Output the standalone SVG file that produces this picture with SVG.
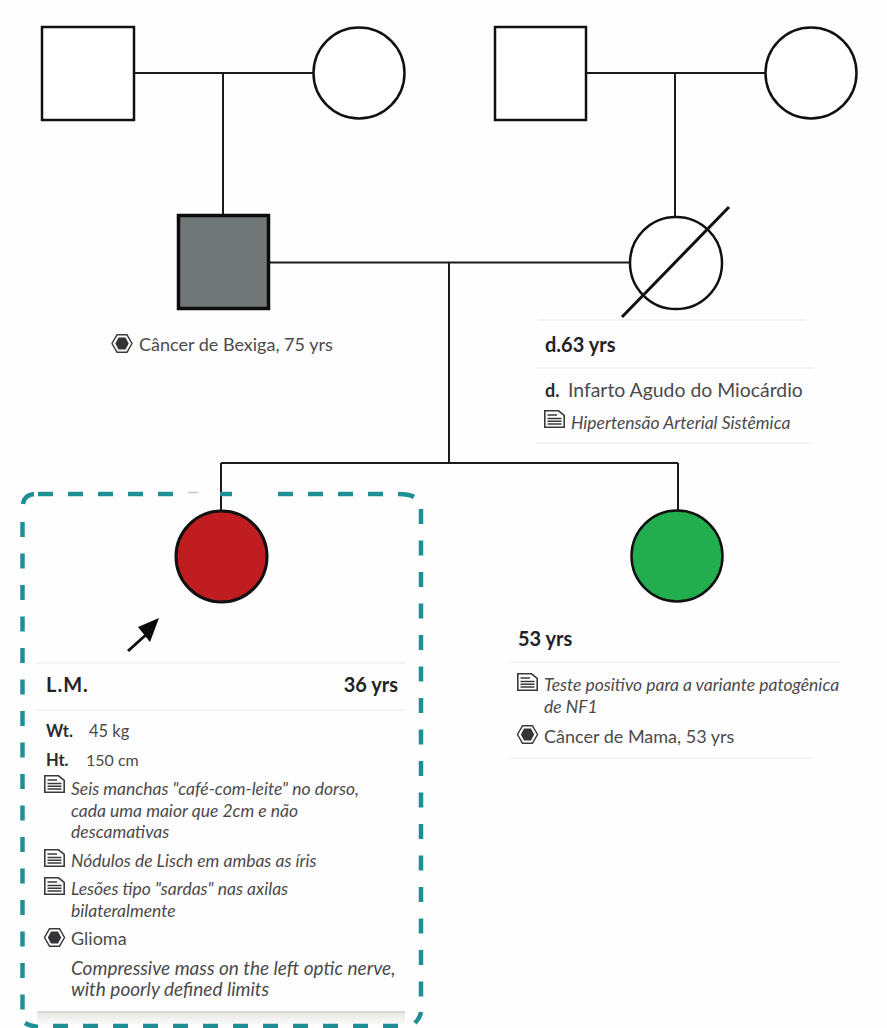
<svg xmlns="http://www.w3.org/2000/svg" width="887" height="1028" viewBox="0 0 887 1028">
<style>
text{font-family:Lato,"Noto Sans","Liberation Sans",sans-serif;fill:#4c4a4c}
.n{fill:#fff;stroke:#111;stroke-width:2.5}
.c{fill:none;stroke:#1a1a1a;stroke-width:2}
.b{font-size:20px;font-weight:700;fill:#232326}
.s{font-size:16.5px;font-weight:700;fill:#2c2c30}
.r{font-size:18px}
.i{font-size:17.5px;font-style:italic}
.rule{stroke:#f1f1f1;stroke-width:1.5;fill:none}
.d{fill:none;stroke:#1f8f96;stroke-width:4.5}
</style>
<defs>
<g id="doc"><path d="M0.8 0.8H14.5L20.2 5.5V17.2H0.8Z" fill="#fff" stroke="#3a3a3c" stroke-width="1.6"/><path d="M3.5 5H13M3.5 8.5H17.5M3.5 11.3H17.5M3.5 14H17.5" stroke="#3a3a3c" stroke-width="1.6" fill="none"/></g>
<g id="hex"><path d="M5.5 0.8H15.5L20.5 9.5L15.5 18.2H5.5L0.5 9.5Z" fill="#fff" stroke="#3a3a3c" stroke-width="1.4"/><path d="M7 3.5H14L17.2 9.5L14 15.5H7L3.8 9.5Z" fill="#333338"/></g>
<linearGradient id="sh" x1="0" y1="0" x2="0" y2="1"><stop offset="0" stop-color="#e6e6e3"/><stop offset="1" stop-color="#fafafa"/></linearGradient>
</defs>
<rect width="887" height="1028" fill="#fefefe"/>
<g id="connectors">
<path class="c" d="M134 73H314M223 73V215M586 73H766M675 73V216M269 262.500H630M449 263V463M221 463H678M221 463V510M678 463V510"/>
</g>
<g id="highlight-box">
<rect x="37" y="1012" width="368" height="12" fill="url(#sh)"/>
<path d="M188 492.500H198" stroke="#c4c4c4" stroke-width="1.500" fill="none"/>
<path class="d" d="M23 504Q24 495 34 494"/>
<path class="d" d="M38 494H174" stroke-dasharray="15 15"/>
<path class="d" d="M220 494H232"/>
<path class="d" d="M278 494H384" stroke-dasharray="15 15"/>
<path class="d" d="M398 494Q409 494 414 497"/>
<path class="d" d="M421 509V998" stroke-dasharray="15 16.500"/>
<path class="d" d="M415 1023Q420 1018 421 1012"/>
<path class="d" d="M53 1026H401" stroke-dasharray="15 15"/>
<path class="d" d="M25 1023Q30 1026 38 1027"/>
<path class="d" d="M22.500 522V1010" stroke-dasharray="15 16.500"/>
</g>
<g id="grandfather-paternal"><rect class="n" x="42" y="27" width="92" height="93"/></g>
<g id="grandmother-paternal"><circle class="n" cx="359" cy="73" r="45.500"/></g>
<g id="grandfather-maternal"><rect class="n" x="495" y="27" width="91" height="93"/></g>
<g id="grandmother-maternal"><circle class="n" cx="811" cy="73" r="45.500"/></g>
<g id="father"><rect x="178.500" y="215.500" width="90" height="93" fill="#717676" stroke="#0c0c0c" stroke-width="3.500"/>
<use href="#hex" x="111.500" y="334"/><text class="r" x="139" y="351">Câncer de Bexiga, 75 yrs</text></g>
<g id="mother"><circle class="n" cx="676" cy="263" r="46"/><path d="M622 317L729 207" stroke="#111" stroke-width="3" fill="none"/>
<path class="rule" d="M540 320H805M536 368H812M536 443H812"/>
<text class="b" x="545" y="352">d.63 yrs</text>
<text class="s" x="545" y="397" style="font-size:18px">d.</text><text class="r" x="568" y="397" style="font-size:19.400px">Infarto Agudo do Miocárdio</text>
<use href="#doc" x="544" y="410"/><text class="i" x="571" y="429">Hipertensão Arterial Sistêmica</text></g>
<g id="proband"><circle cx="221.500" cy="556.500" r="45.500" fill="#c01d20" stroke="#111" stroke-width="3"/>
<path d="M128 651L148 633" stroke="#111" stroke-width="3" fill="none"/><path d="M159 618L150 642L138 627Z" fill="#0a0a0a"/>
<path class="rule" d="M36 663H405M36 710H405"/>
<text class="b" x="46" y="692" letter-spacing="1">L.M.</text><text class="b" x="398" y="692" text-anchor="end">36 yrs</text>
<text class="s" x="46" y="737">Wt.</text><text class="r" x="89" y="737" style="font-size:16.500px">45 kg</text>
<text class="s" x="46" y="766">Ht.</text><text class="r" x="86" y="766" style="font-size:16px">150 cm</text>
<use href="#doc" x="44" y="775"/><text class="i" x="71" y="795">Seis manchas "café-com-leite" no dorso,</text>
<text class="i" x="71" y="817">cada uma maior que 2cm e não</text>
<text class="i" x="71" y="838">descamativas</text>
<use href="#doc" x="44" y="849"/><text class="i" x="71" y="867">Nódulos de Lisch em ambas as íris</text>
<use href="#doc" x="44" y="877"/><text class="i" x="71" y="895">Lesões tipo "sardas" nas axilas</text>
<text class="i" x="71" y="917">bilateralmente</text>
<use href="#hex" x="44" y="928"/><text class="r" x="71" y="945">Glioma</text>
<text class="i" x="71" y="975" style="font-size:19px">Compressive mass on the left optic nerve,</text>
<text class="i" x="71" y="996" style="font-size:19px">with poorly defined limits</text>
<path d="M37 1012H405" stroke="#d9d9d6" stroke-width="2" fill="none"/></g>
<g id="sister"><circle cx="677" cy="556" r="45.500" fill="#22ae4f" stroke="#111" stroke-width="2.500"/>
<path class="rule" d="M510 662H840M510 758H812"/>
<text class="b" x="518" y="646">53 yrs</text>
<use href="#doc" x="517" y="673"/><text class="i" x="544" y="691">Teste positivo para a variante patogênica</text>
<text class="i" x="544" y="713">de NF1</text>
<use href="#hex" x="517" y="725"/><text class="r" x="544" y="743">Câncer de Mama, 53 yrs</text></g>
</svg>
